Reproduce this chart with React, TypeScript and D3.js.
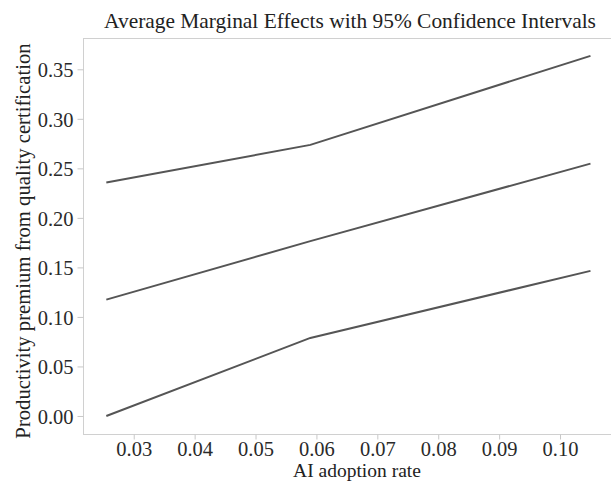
import React, { useRef, useEffect } from 'react'
import * as d3 from 'd3'

// AI adoption rate at which the effect is evaluated
const adoption = [0.0255, 0.059, 0.105]
// average marginal effect and its 95% bounds
const upper = [0.2357, 0.2737, 0.3636]
const estimate = [0.1175, 0.1765, 0.2548]
const lower = [0.0, 0.0788, 0.1465]

const xTicks = [0.03, 0.04, 0.05, 0.06, 0.07, 0.08, 0.09, 0.1]
const yTicks = [0, 0.05, 0.1, 0.15, 0.2, 0.25, 0.3, 0.35]

const title = 'Average Marginal Effects with 95% Confidence Intervals'
const xTitle = 'AI adoption rate'
const yTitle = 'Productivity premium from quality certification'

export default function App() {
    const svgRef = useRef<SVGSVGElement>(null)

    useEffect(() => {
        const w = 611
        const h = 481
        const left = 83
        const right = 630
        const top = 38
        const bottom = 434
        const font = '"Liberation Serif", "Times New Roman", serif'

        const svg = d3.select(svgRef.current)
            .attr('width', w)
            .attr('height', h)
            .style('font-family', font)
        svg.selectAll('*').remove()

        // setup the scaling
        const xScale = d3.scaleLinear()
            .domain([0.02167, 0.11149])
            .range([left, right])

        const yScale = d3.scaleLinear()
            .domain([-0.0182, 0.3816])
            .range([bottom, top])

        // frame
        svg.append('rect')
            .attr('x', left + 0.5)
            .attr('y', top + 0.5)
            .attr('width', right - left)
            .attr('height', bottom - top)
            .attr('fill', 'none')
            .attr('stroke', '#d0d0d0')
            .attr('stroke-width', 1)

        // axes
        const xAxis = d3.axisBottom(xScale)
            .tickValues(xTicks)
            .tickFormat(d3.format('.2f'))
            .tickSize(5)

        const yAxis = d3.axisLeft(yScale)
            .tickValues(yTicks)
            .tickFormat(d3.format('.2f'))
            .tickSize(6)
            .tickPadding(4)

        const gx = svg.append('g')
            .attr('transform', `translate(0, ${bottom + 0.5})`)
            .call(xAxis)
        const gy = svg.append('g')
            .attr('transform', `translate(${left + 0.5}, 0)`)
            .call(yAxis)

        for (const g of [gx, gy]) {
            g.select('.domain').remove()
            g.selectAll('.tick line').attr('stroke', '#c8c8c8')
            g.selectAll('.tick text')
                .attr('fill', '#2a2a2a')
                .style('font-family', font)
                .style('font-size', '20.5px')
        }
        gx.selectAll('.tick text').attr('dy', null).attr('y', 21)
        gy.selectAll('.tick text').attr('dy', '0.35em')

        // lines
        const line = d3.line<number>()
            .x((d, i) => xScale(adoption[i]))
            .y(d => yScale(d))

        svg.selectAll('.series')
            .data([upper, estimate, lower])
            .join('path')
                .attr('class', 'series')
                .attr('d', d => line(d))
                .attr('fill', 'none')
                .attr('stroke', '#555')
                .attr('stroke-width', 2)

        // titles
        svg.append('text')
            .attr('x', 350)
            .attr('y', 28)
            .attr('text-anchor', 'middle')
            .attr('fill', '#222')
            .style('font-size', '21.4px')
            .text(title)

        svg.append('text')
            .attr('x', 357)
            .attr('y', 476.5)
            .attr('text-anchor', 'middle')
            .attr('fill', '#222')
            .style('font-size', '19.5px')
            .text(xTitle)

        svg.append('text')
            .attr('transform', `translate(30, 241) rotate(-90)`)
            .attr('text-anchor', 'middle')
            .attr('fill', '#222')
            .style('font-size', '20.7px')
            .text(yTitle)
    }, [])

    return (
        <div style={{ position: 'absolute', left: 0, top: 0 }}>
            <svg ref={svgRef}></svg>
        </div>
    )
}
